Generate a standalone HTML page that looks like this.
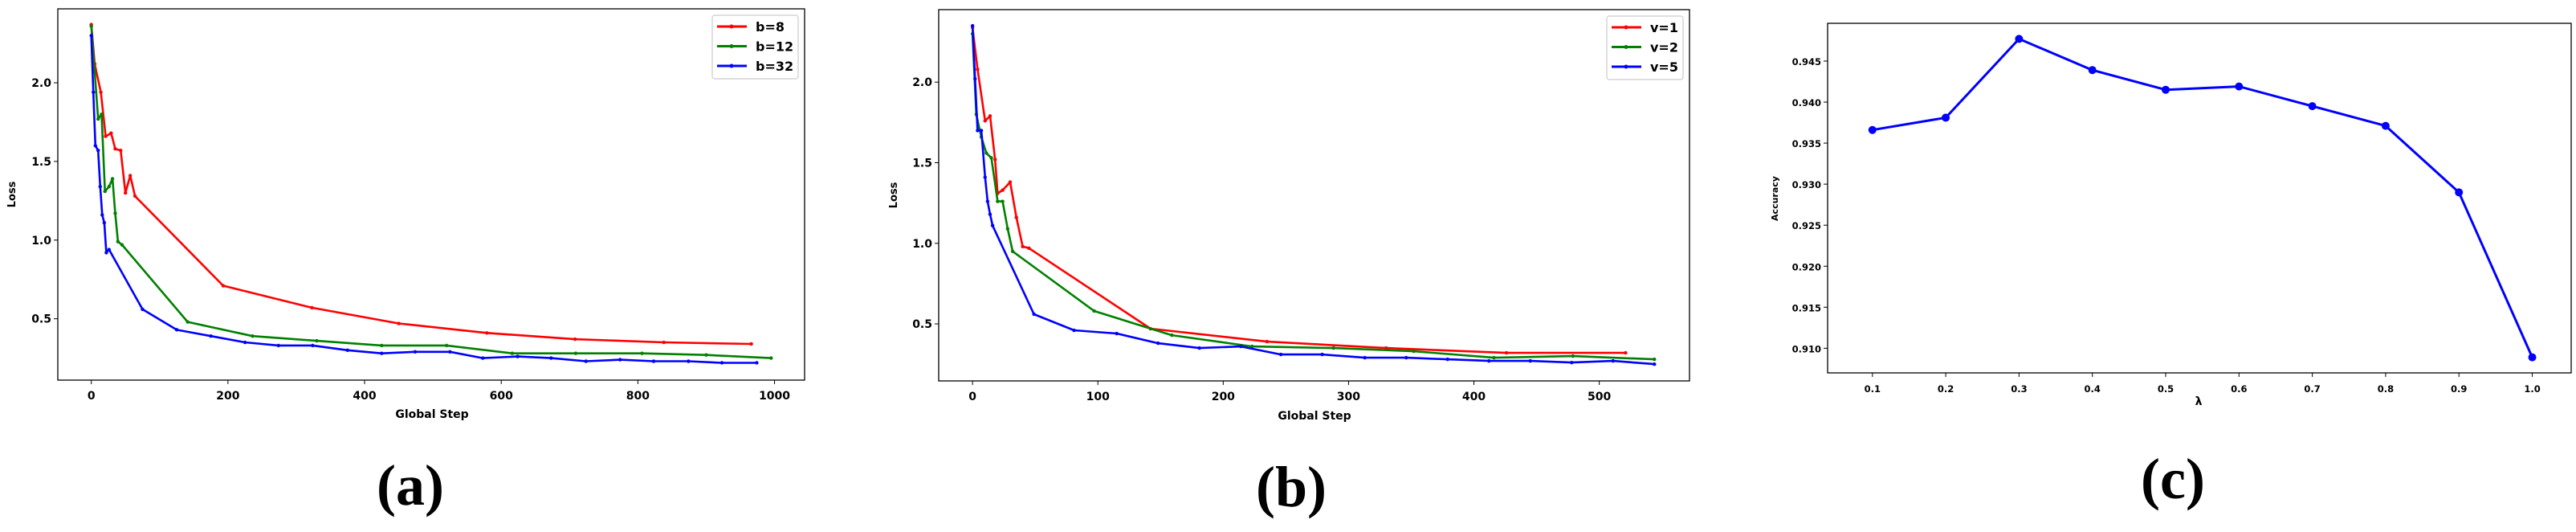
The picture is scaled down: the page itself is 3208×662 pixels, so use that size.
<!DOCTYPE html>
<html><head><meta charset="utf-8">
<style>
html,body{margin:0;padding:0;background:#fff;}
svg{display:block;}
text{font-family:"DejaVu Sans","Liberation Sans",sans-serif;}
</style></head>
<body>
<svg id="root" width="3208" height="662" viewBox="0 0 3208 662" xmlns="http://www.w3.org/2000/svg"></svg>
<script>
// ---- Panel (a) data ----
const aStepsB8=[0,5,14,21,29,35,43,50,57,64,193,323,450,579,708,838,966];
const aLossB8=[2.37,2.12,1.94,1.66,1.68,1.58,1.57,1.30,1.41,1.28,0.71,0.57,0.47,0.41,0.37,0.35,0.34];
const aStepsB12=[0,5,10,15,20,26,31,35,39,45,141,236,330,425,520,616,709,806,900,995];
const aLossB12=[2.36,2.07,1.77,1.80,1.31,1.34,1.39,1.17,0.99,0.97,0.48,0.39,0.36,0.33,0.33,0.28,0.28,0.28,0.27,0.25];
const aStepsB32=[0,3,6,10,13,16,19,22,26,75,125,175,225,274,324,375,425,474,525,573,624,673,724,774,823,874,923,974];
const aLossB32=[2.30,1.94,1.60,1.57,1.34,1.16,1.11,0.92,0.94,0.56,0.43,0.39,0.35,0.33,0.33,0.30,0.28,0.29,0.29,0.25,0.26,0.25,0.23,0.24,0.23,0.23,0.22,0.22];
const aXTicks=[0,200,400,600,800,1000];
const aYTicks=[0.5,1.0,1.5,2.0];
const aLegend=["b=8","b=12","b=32"];
// ---- Panel (b) data ----
const bStepsV1=[0,4,10,14,18,20,24,30,35,40,45,142,235,330,426,521];
const bLossV1=[2.34,2.08,1.76,1.79,1.52,1.31,1.33,1.38,1.16,0.98,0.97,0.47,0.39,0.35,0.32,0.32];
const bStepsV2=[0,3,7,11,15,20,24,28,32,97,159,223,288,352,416,479,544];
const bLossV2=[2.30,1.80,1.66,1.56,1.53,1.26,1.26,1.09,0.95,0.58,0.43,0.36,0.35,0.33,0.29,0.30,0.28];
const bStepsV5=[0,2,4,7,10,12,14,16,49,81,115,148,181,214,246,279,313,346,379,412,445,478,511,544];
const bLossV5=[2.35,2.02,1.70,1.70,1.41,1.26,1.18,1.11,0.56,0.46,0.44,0.38,0.35,0.36,0.31,0.31,0.29,0.29,0.28,0.27,0.27,0.26,0.27,0.25];
const bXTicks=[0,100,200,300,400,500];
const bYTicks=[0.5,1.0,1.5,2.0];
const bLegend=["v=1","v=2","v=5"];
// ---- Panel (c) data ----
const cLambda=[0.1,0.2,0.3,0.4,0.5,0.6,0.7,0.8,0.9,1.0];
const cAcc=[0.9366,0.9381,0.9477,0.9439,0.9415,0.9419,0.9395,0.9371,0.9290,0.9089];
const cXTicks=[0.1,0.2,0.3,0.4,0.5,0.6,0.7,0.8,0.9,1.0];
const cYTicks=[0.910,0.915,0.920,0.925,0.930,0.935,0.940,0.945];

const NS="http://www.w3.org/2000/svg";
const root=document.getElementById('root');
function mk(tag,attrs,parent){const e=document.createElementNS(NS,tag);for(const k in attrs)e.setAttribute(k,attrs[k]);(parent||root).appendChild(e);return e;}
function lin(d0,d1,p0,p1){return v=>p0+(v-d0)/(d1-d0)*(p1-p0);}

function panel(cfg){
  const g=mk('g',{});
  
  
  const X=lin(cfg.xd[0],cfg.xd[1],cfg.L,cfg.R), Y=lin(cfg.yd[0],cfg.yd[1],cfg.B,cfg.T);
  const fr=mk('rect',{x:cfg.L,y:cfg.T,width:cfg.R-cfg.L,height:cfg.B-cfg.T,fill:'none',stroke:'#000','stroke-width':1.3},g);
  
  
  cfg.xt.forEach(t=>{
    const x=X(t);
    mk('line',{x1:x,x2:x,y1:cfg.B,y2:cfg.B+5,stroke:'#000','stroke-width':1},g);
    const tx=mk('text',{x:x,y:cfg.B+24,'text-anchor':'middle','font-size':cfg.fs,'font-weight':'bold'},g);
    tx.textContent=cfg.xfmt(t);
    
    
  });
  cfg.yt.forEach(t=>{
    const y=Y(t);
    mk('line',{x1:cfg.L-5,x2:cfg.L,y1:y,y2:y,stroke:'#000','stroke-width':1},g);
    const tx=mk('text',{x:cfg.L-8,y:y+5,'text-anchor':'end','font-size':cfg.fs,'font-weight':'bold'},g);
    tx.textContent=cfg.yfmt(t);
    
    
  });
  const xl=mk('text',{x:cfg.xlx,y:cfg.xly,'text-anchor':'middle','font-size':14,'font-weight':'bold'},g);
  xl.textContent=cfg.xlabel;
  
  
  const yl=mk('text',{x:0,y:0,'text-anchor':'middle','font-size':cfg.ylfs||13,'font-weight':'bold',transform:`translate(${cfg.ylx},${cfg.yly}) rotate(-90)`},g);
  yl.textContent=cfg.ylabel;
  
  
  cfg.series.forEach(s=>{
    const sg=mk('g',{},g);
    
    
    const pts=s.x.map((v,i)=>X(v).toFixed(1)+','+Y(s.y[i]).toFixed(1)).join(' ');
    mk('polyline',{points:pts,fill:'none',stroke:s.c,'stroke-width':cfg.lw,'stroke-linejoin':'round'},sg);
    s.x.forEach((v,i)=>{
      const m=mk('circle',{cx:X(v),cy:Y(s.y[i]),r:cfg.mr,fill:s.c},sg);
      
      
    });
  });
  if(cfg.leg){
    const lg=mk('g',{},g);
    
    
    const [lx,ly,lw,lh]=cfg.leg;
    mk('rect',{x:lx,y:ly,width:lw,height:lh,rx:3,fill:'#fff',stroke:'#ccc','stroke-width':1.2},lg);
    cfg.series.forEach((s,i)=>{
      const yy=ly+14+i*24.5;
      const e=mk('g',{},lg);
      
      
      mk('line',{x1:lx+6,x2:lx+43,y1:yy,y2:yy,stroke:s.c,'stroke-width':3},e);
      mk('circle',{cx:lx+24,cy:yy,r:2.5,fill:s.c},e);
      const t=mk('text',{x:lx+54,y:yy+6,'font-size':16,'font-weight':'bold'},e);
      t.textContent=s.label;
    });
  }
  const cap=mk('text',{x:cfg.capx,y:cfg.capy,'text-anchor':'middle','font-size':72,'font-weight':'bold',style:'font-family:"Liberation Serif",serif'},g);
  cap.textContent=cfg.cap;
  
  
}

panel({name:'chart-a-batch-loss',L:72,R:1002,T:11,B:473,xd:[-49,1044],yd:[0.11,2.47],
  xt:aXTicks,yt:aYTicks,xfmt:v=>String(v),yfmt:v=>v.toFixed(1),fs:14,lw:2.6,mr:2.2,
  xlabel:'Global Step',xlx:538,xly:520,ylabel:'Loss',ylx:19,yly:242,
  series:[{x:aStepsB8,y:aLossB8,c:'#ff0000',label:aLegend[0]},{x:aStepsB12,y:aLossB12,c:'#008000',label:aLegend[1]},{x:aStepsB32,y:aLossB32,c:'#0000ff',label:aLegend[2]}],
  leg:[887,19,107,79],cap:'(a)',capx:511,capy:628});

panel({name:'chart-b-v-loss',L:1169,R:2104,T:12,B:474,xd:[-27,572],yd:[0.146,2.45],
  xt:bXTicks,yt:bYTicks,xfmt:v=>String(v),yfmt:v=>v.toFixed(1),fs:14,lw:2.6,mr:2.2,
  xlabel:'Global Step',xlx:1637,xly:522,ylabel:'Loss',ylx:1117,yly:243,
  series:[{x:bStepsV1,y:bLossV1,c:'#ff0000',label:bLegend[0]},{x:bStepsV2,y:bLossV2,c:'#008000',label:bLegend[1]},{x:bStepsV5,y:bLossV5,c:'#0000ff',label:bLegend[2]}],
  leg:[2001,20,95,79],cap:'(b)',capx:1608,capy:630});

panel({name:'chart-c-lambda-accuracy',L:2276,R:3202,T:29,B:464,xd:[0.1-0.0611,1.0+0.0531],yd:[0.9070,0.9496],
  xt:cXTicks,yt:cYTicks,xfmt:v=>v.toFixed(1),yfmt:v=>v.toFixed(3),fs:11.5,lw:3,mr:5,
  xlabel:'λ',xlx:2738,xly:504,ylabel:'Accuracy',ylfs:11,ylx:2214,yly:247,
  series:[{x:cLambda,y:cAcc,c:'#0000ff',label:'accuracy'}],
  cap:'(c)',capx:2706,capy:620});
</script>
</body></html>
